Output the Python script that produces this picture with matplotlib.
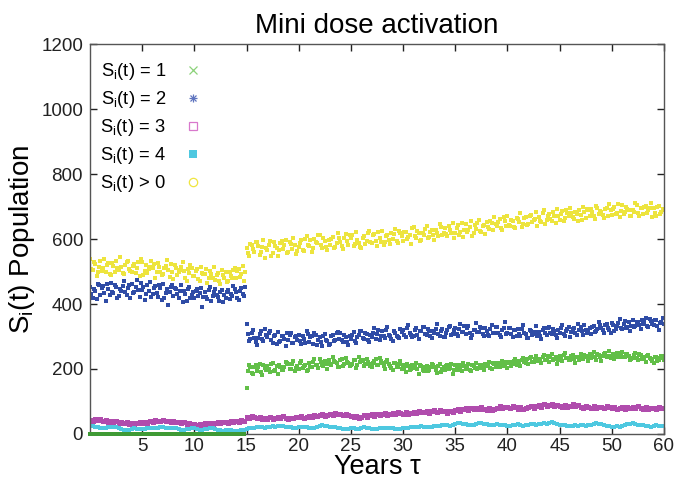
import numpy as np
import matplotlib
matplotlib.use('Agg')
import matplotlib.pyplot as plt
from matplotlib.lines import Line2D

plt.rcParams['font.family'] = ['Liberation Sans', 'DejaVu Sans']
plt.rcParams['mathtext.fontset'] = 'custom'
plt.rcParams['mathtext.rm'] = 'Liberation Sans'
plt.rcParams['mathtext.it'] = 'Liberation Sans:italic'

# time grid (axis units, 4 samples per unit, second set shifted by 1/8); jump at 15
t_before = np.arange(0, 15, 0.25)
t_after = np.arange(15, 55.001, 0.25)
t_before2 = np.arange(0.125, 15, 0.25)
t_after2 = np.arange(15.125, 55, 0.25)

# S_i(t) > 0
yellow_before = [540, 505, 522, 498, 531, 510, 497, 526, 489, 518, 533, 504,
                 515, 492, 528, 507, 499, 524, 511, 486, 530, 503, 494, 515,
                 512, 481, 527, 500, 491, 518, 506, 522, 478, 510, 497, 515,
                 503, 472, 494, 510, 485, 507, 470, 496, 493, 466, 501, 480,
                 474, 495, 462, 488, 498, 471, 486, 505, 480, 509, 492, 470]
yellow_before2 = [507, 529, 486, 515, 502, 538, 519, 493, 527, 500, 511, 545,
                  496, 521, 533, 502, 518, 495, 529, 540, 488, 519, 507, 531,
                  522, 497, 514, 489, 510, 535, 482, 499, 521, 489, 506, 528,
                  480, 507, 519, 486, 501, 478, 514, 492, 508, 479, 492, 514,
                  490, 470, 504, 481, 469, 500, 479, 512, 503, 484, 518, 497]
yellow_after = [571, 548, 583, 560, 590, 552, 575, 541, 566, 594, 557, 580,
                549, 587, 570, 598, 561, 584, 603, 553, 575, 597, 564, 610,
                579, 560, 601, 588, 612, 571, 594, 566, 583, 607, 574, 619,
                590, 568, 615, 581, 604, 577, 622, 589, 571, 609, 595, 626,
                588, 614, 579, 603, 625, 592, 611, 584, 600, 631, 589, 617,
                595, 623, 607, 584, 636, 602, 620, 597, 611, 640, 605, 627,
                598, 619, 645, 612, 634, 609, 628, 650, 617, 642, 623, 605,
                646, 628, 655, 619, 631, 660, 622, 644, 653, 630, 648, 667,
                639, 662, 627, 655, 671, 641, 657, 634, 662, 680, 647, 669,
                645, 673, 659, 684, 668, 651, 689, 660, 677, 655, 671, 693,
                659, 685, 664, 679, 696, 668, 682, 657, 673, 699, 665, 688,
                691, 670, 702, 676, 683, 665, 696, 708, 674, 699, 681, 667,
                705, 684, 693, 672, 690, 711, 679, 697, 676, 701, 688, 712,
                695, 672, 703, 684, 690]
yellow_after2 = [557, 586, 569, 592, 580, 561, 598, 573, 583, 548, 591, 573,
                 566, 593, 581, 557, 592, 570, 582, 564, 588, 566, 601, 583,
                 597, 573, 591, 612, 583, 604, 575, 597, 599, 571, 588, 603,
                 577, 602, 593, 611, 612, 586, 598, 574, 603, 584, 617, 592,
                 612, 595, 623, 590, 581, 609, 597, 620, 614, 594, 625, 608,
                 621, 599, 612, 633, 609, 625, 594, 618, 630, 603, 622, 613,
                 627, 609, 636, 618, 616, 641, 620, 604, 633, 611, 648, 628,
                 623, 638, 610, 642, 649, 625, 639, 616, 636, 657, 628, 645,
                 652, 633, 668, 641, 644, 660, 637, 666, 651, 637, 665, 644,
                 670, 652, 663, 641, 655, 679, 646, 672, 662, 684, 650, 671,
                 676, 654, 690, 670, 681, 662, 676, 690, 660, 684, 691, 670,
                 684, 662, 695, 687, 674, 691, 670, 688, 693, 678, 708, 686,
                 678, 700, 689, 670, 683, 704, 672, 694, 699, 681, 694, 668,
                 681, 700, 676, 693]

# S_i(t) = 2
blue_before = [452, 419, 441, 463, 428, 455, 410, 447, 466, 433, 451, 425,
               440, 470, 429, 458, 461, 437, 474, 422, 444, 412, 459, 468,
               430, 456, 421, 449, 463, 434, 398, 452, 425, 447, 418, 459,
               441, 409, 452, 427, 418, 445, 433, 390, 438, 414, 452, 426,
               447, 421, 436, 405, 419, 442, 431, 455, 437, 412, 448, 425]
blue_before2 = [431, 446, 415, 459, 449, 433, 462, 427, 438, 457, 420, 445,
                455, 436, 448, 417, 433, 452, 442, 466, 451, 431, 440, 422,
                448, 435, 460, 412, 420, 445, 437, 458, 449, 431, 440, 405,
                430, 446, 419, 438, 441, 425, 450, 421, 422, 443, 408, 437,
                429, 410, 444, 428, 436, 416, 425, 447, 420, 441, 430, 451]
blue_after = [338, 286, 312, 295, 275, 308, 291, 322, 297, 318, 280, 305,
              314, 287, 302, 272, 290, 311, 279, 301, 306, 276, 293, 317,
              283, 300, 312, 274, 298, 271, 309, 287, 278, 304, 290, 315,
              310, 284, 297, 273, 292, 315, 281, 306, 318, 293, 307, 282,
              297, 325, 309, 288, 316, 294, 330, 303, 287, 312, 299, 324,
              320, 298, 334, 305, 303, 327, 291, 316, 329, 306, 318, 294,
              312, 338, 301, 322, 297, 319, 333, 308, 325, 302, 340, 314,
              309, 331, 296, 321, 342, 315, 327, 303, 318, 300, 336, 311,
              329, 306, 321, 344, 311, 327, 298, 319, 323, 301, 334, 309,
              296, 318, 307, 331, 315, 292, 325, 305, 328, 309, 317, 296,
              312, 336, 303, 322, 299, 324, 310, 338, 330, 306, 321, 314,
              309, 333, 318, 344, 326, 311, 339, 320, 342, 318, 331, 355,
              324, 347, 330, 316, 351, 333, 345, 322, 338, 357, 329, 348,
              334, 352, 319, 345, 340]
blue_after2 = [309, 291, 320, 283, 296, 316, 285, 304, 311, 289, 303, 276,
               284, 303, 292, 310, 305, 280, 297, 288, 285, 302, 279, 309,
               297, 276, 305, 290, 283, 301, 288, 275, 301, 285, 310, 292,
               289, 305, 283, 301, 306, 287, 299, 317, 296, 310, 288, 305,
               312, 293, 319, 300, 301, 321, 306, 292, 317, 303, 294, 313,
               305, 325, 311, 297, 320, 304, 316, 329, 308, 322, 300, 317,
               324, 307, 318, 299, 312, 328, 306, 321, 309, 323, 314, 331,
               326, 312, 305, 320, 314, 329, 309, 325, 306, 323, 312, 330,
               312, 297, 325, 308, 326, 309, 320, 302, 308, 322, 311, 295,
               320, 305, 313, 300, 303, 319, 310, 327, 311, 324, 305, 319,
               325, 309, 316, 330, 313, 327, 304, 321, 318, 335, 312, 326,
               330, 315, 322, 336, 319, 334, 325, 312, 336, 322, 341, 327,
               339, 325, 344, 331, 328, 346, 335, 351, 345, 331, 353, 337,
               350, 333, 342, 358]

# S_i(t) = 1
green_before = [0] * 60
green_after = [140, 212, 188, 205, 195, 214, 183, 203, 210, 191, 219, 198,
               186, 207, 196, 222, 214, 199, 225, 204, 201, 226, 208, 193,
               219, 205, 230, 211, 232, 212, 224, 201, 215, 238, 220, 206,
               227, 209, 234, 218, 211, 229, 203, 236, 224, 208, 231, 215,
               206, 226, 213, 235, 219, 200, 227, 209, 198, 218, 205, 224,
               212, 190, 209, 199, 202, 217, 186, 208, 193, 210, 198, 215,
               207, 189, 214, 200, 196, 211, 203, 186, 213, 198, 207, 219,
               201, 216, 194, 209, 218, 203, 212, 196, 208, 222, 199, 214,
               219, 206, 226, 211, 204, 223, 215, 230, 226, 210, 233, 219,
               214, 237, 223, 240, 232, 218, 242, 227, 221, 245, 230, 214,
               239, 225, 248, 233, 228, 244, 219, 236, 247, 231, 240, 224,
               235, 252, 229, 243, 226, 246, 238, 255, 241, 232, 250, 236,
               253, 237, 245, 229, 234, 249, 227, 242, 238, 222, 244, 231,
               218, 236, 227, 240, 229]
green_after2 = [195, 207, 186, 213, 205, 192, 211, 198, 199, 215, 193, 208,
                213, 197, 205, 219, 201, 215, 194, 210, 217, 203, 211, 197,
                207, 222, 212, 203, 223, 209, 216, 229, 211, 226, 219, 207,
                231, 214, 222, 208, 216, 228, 212, 223, 229, 215, 222, 210,
                218, 230, 213, 226, 210, 223, 215, 204, 219, 206, 215, 201,
                203, 214, 197, 211, 210, 199, 213, 196, 207, 194, 205, 213,
                198, 210, 192, 207, 209, 200, 214, 197, 202, 211, 195, 208,
                209, 198, 213, 203, 199, 211, 204, 216, 214, 202, 217, 207,
                206, 218, 210, 221, 219, 209, 224, 212, 216, 228, 220, 232,
                233, 221, 230, 225, 226, 237, 229, 241, 238, 227, 236, 229,
                230, 242, 234, 227, 241, 232, 238, 229, 234, 243, 236, 245,
                244, 236, 247, 238, 239, 249, 241, 235, 246, 238, 244, 249,
                237, 247, 240, 232, 243, 235, 246, 231, 230, 241, 234, 226,
                237, 225, 233, 240]

# S_i(t) = 3
magenta_before = [44, 40, 47, 42, 45, 41, 43, 38, 40, 36, 39, 34,
                  37, 33, 36, 31, 35, 32, 34, 37, 33, 38, 35, 40,
                  38, 42, 39, 41, 43, 39, 41, 37, 40, 36, 38, 34,
                  36, 32, 35, 30, 31, 28, 32, 29, 33, 30, 35, 31,
                  34, 37, 33, 36, 38, 34, 39, 36, 40, 37, 42, 39]
magenta_after = [52, 49, 55, 51, 48, 52, 46, 50, 47, 51, 45, 49,
                 52, 48, 54, 50, 46, 50, 48, 53, 51, 55, 49, 53,
                 56, 52, 58, 54, 57, 61, 55, 59, 62, 58, 64, 60,
                 63, 59, 61, 57, 55, 51, 54, 49, 53, 57, 52, 58,
                 60, 56, 62, 58, 61, 65, 59, 63, 66, 62, 68, 64,
                 63, 67, 61, 66, 69, 65, 71, 67, 68, 72, 66, 70,
                 73, 69, 75, 71, 70, 66, 72, 68, 74, 78, 72, 76,
                 79, 75, 81, 77, 80, 76, 82, 78, 75, 79, 73, 77,
                 81, 85, 79, 83, 84, 80, 86, 82, 78, 82, 76, 80,
                 83, 87, 81, 85, 88, 84, 91, 86, 89, 93, 87, 90,
                 86, 82, 88, 84, 87, 91, 85, 89, 84, 80, 86, 82,
                 81, 85, 79, 83, 84, 80, 86, 82, 79, 83, 77, 81,
                 82, 78, 84, 80, 83, 79, 85, 81, 78, 82, 76, 80,
                 81, 77, 83, 79, 80]

# S_i(t) = 4
cyan_before = [25, 24, 22, 20, 18, 17, 18, 20, 22, 23, 21, 18,
               15, 13, 12, 13, 15, 17, 16, 15, 14, 16, 18, 19,
               18, 17, 19, 21, 20, 18, 17, 18, 19, 17, 14, 12,
               12, 14, 16, 18, 17, 15, 13, 12, 14, 16, 18, 17,
               15, 13, 11, 10, 11, 13, 12, 10, 9, 10, 12, 11]
cyan_after = [14, 17, 19, 18, 20, 22, 21, 19, 21, 23, 24, 22,
              25, 26, 24, 23, 22, 20, 18, 19, 21, 23, 22, 20,
              18, 17, 19, 22, 25, 27, 26, 24, 22, 20, 21, 19,
              17, 15, 14, 16, 18, 17, 15, 16, 18, 20, 19, 17,
              15, 14, 16, 18, 19, 18, 17, 19, 18, 16, 14, 15,
              17, 19, 18, 20, 21, 20, 22, 24, 23, 21, 20, 22,
              24, 26, 25, 27, 29, 28, 26, 27, 30, 33, 35, 32,
              30, 28, 27, 29, 31, 33, 34, 32, 30, 28, 27, 29,
              31, 29, 27, 28, 26, 25, 27, 29, 30, 28, 26, 27,
              29, 31, 30, 28, 30, 32, 33, 31, 34, 36, 33, 30,
              28, 27, 29, 26, 24, 25, 27, 26, 28, 27, 25, 27,
              29, 31, 33, 32, 30, 28, 26, 25, 23, 22, 24, 21,
              24, 27, 30, 32, 33, 31, 29, 27, 28, 26, 24, 23,
              25, 27, 26, 24, 25]

xtick_pos = [5, 10, 15, 20, 25, 30, 35, 40, 45, 50, 55]
xtick_labels = ['5', '10', '15', '20', '25', '30', '35', '40', '45', '50', '60']
ytick_pos = [0, 200, 400, 600, 800, 1000, 1200]

c_green = '#62bf48'
c_blue = '#2f4ca6'
c_magenta = '#b04cad'
c_cyan = '#4ec8e0'
c_yellow = '#ede43e'

t_all = np.concatenate([t_before, t_after])
t_all2 = np.concatenate([t_before2, t_after2])
dot = dict(ls='none', marker='s', ms=2.2, mew=0)

fig = plt.figure(figsize=(6.75, 4.79), dpi=100)
ax = fig.add_axes([0.1333, 0.094, 0.8504, 0.814])

ax.plot(t_before, green_before, ls='none', marker='s', ms=2.4, mew=0,
        color='#3f9a35', clip_on=False, zorder=5)
ax.plot(t_after, green_after, color=c_green, **dot)
ax.plot(t_after2, green_after2, color=c_green, **dot)
ax.plot(t_all, blue_before + blue_after, color=c_blue, **dot)
ax.plot(t_all2, blue_before2 + blue_after2, color=c_blue, **dot)
ax.plot(t_all, magenta_before + magenta_after, ls='none', marker='s', ms=3.6, mew=0,
        color=c_magenta)
ax.plot(t_all, cyan_before + cyan_after, ls='none', marker='s', ms=2.6, mew=0, color=c_cyan)
ax.plot(t_all, yellow_before + yellow_after, color=c_yellow, **dot)
ax.plot(t_all2, yellow_before2 + yellow_after2, color=c_yellow, **dot)

ax.set_xlim(0, 55)
ax.set_ylim(0, 1200)
ax.set_xticks(xtick_pos)
ax.set_xticklabels(xtick_labels)
ax.set_yticks(ytick_pos)
ax.tick_params(axis='both', labelsize=13.5, colors='#222222', width=1)
ax.tick_params(axis='x', direction='in', length=5, top=True, pad=3)
ax.tick_params(axis='y', direction='in', length=5, right=True, pad=5)
for s in ax.spines.values():
    s.set_color('#555555')
    s.set_linewidth(1.0)

ax.set_title('Mini dose activation', fontsize=20, pad=8)
ax.set_xlabel('Years τ', fontsize=19.5, labelpad=-1)
ax.set_ylabel(r'S$_{\rm i}$(t) Population', fontsize=20, labelpad=3)

star = (Line2D([], [], ls='none', marker='+', ms=6, mew=0.9, color='#5f74bf'),
        Line2D([], [], ls='none', marker='x', ms=5, mew=0.9, color='#5f74bf'))
handles = [
    Line2D([], [], ls='none', marker='x', ms=6, mew=0.9, color='#8cd27a'),
    star,
    Line2D([], [], ls='none', marker='s', ms=6, mfc='none', mew=0.9, color='#d878cc'),
    Line2D([], [], ls='none', marker='s', ms=6, mew=0, color=c_cyan),
    Line2D([], [], ls='none', marker='o', ms=6, mfc='none', mew=0.9, color='#efe53f'),
]
labels = [r'S$_{\rm i}$(t) = 1', r'S$_{\rm i}$(t) = 2', r'S$_{\rm i}$(t) = 3',
          r'S$_{\rm i}$(t) = 4', r'S$_{\rm i}$(t) > 0']
ax.legend(handles, labels, loc='upper left', markerfirst=False, frameon=False,
          fontsize=13.2, handlelength=1.0, handletextpad=1.0, labelspacing=0.38,
          borderaxespad=0.0, bbox_to_anchor=(0.005, 0.975))

fig.savefig('out.png', dpi=100)
